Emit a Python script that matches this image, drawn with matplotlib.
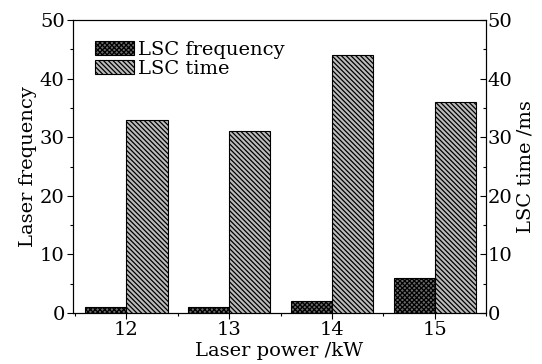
import matplotlib
matplotlib.use("Agg")
import matplotlib.pyplot as plt
import numpy as np
from matplotlib.ticker import MultipleLocator

plt.rcParams['font.family'] = ['DejaVu Serif']
plt.rcParams['hatch.linewidth'] = 0.9

powers = [12, 13, 14, 15]
lsc_frequency = [1, 1, 2, 6]
lsc_time = [33, 31, 44, 36]

fig = plt.figure(figsize=(5.42, 3.64), dpi=100)
ax = fig.add_axes([0.1347, 0.140, 0.762, 0.805])
ax2 = ax.twinx()

x = np.array(powers, dtype=float)
w = 0.4
b1 = ax.bar(x - w/2, lsc_frequency, width=w, facecolor='#6a6a6a', edgecolor='black',
            hatch='xxxxxxx', linewidth=0.8, label='LSC frequency')
b2 = ax2.bar(x + w/2, lsc_time, width=w, facecolor='#bcbcbc', edgecolor='black',
             hatch='\\\\\\\\\\\\\\', linewidth=0.8, label='LSC time')

for a in (ax, ax2):
    a.set_ylim(0, 50)
    a.yaxis.set_major_locator(MultipleLocator(10))
    a.yaxis.set_minor_locator(MultipleLocator(5))
ax.set_xlim(11.48, 15.5)
ax.set_xticks(powers)
ax.xaxis.set_minor_locator(MultipleLocator(0.5))

fs = 14
ax.tick_params(axis='both', which='major', direction='out', length=4, labelsize=fs, width=0.8, pad=2)
ax.tick_params(axis='both', which='minor', direction='out', length=2, width=0.8)
ax2.tick_params(axis='y', which='major', direction='in', length=4, labelsize=fs, width=0.8, pad=1)
ax2.tick_params(axis='y', which='minor', direction='in', length=2, width=0.8)

ax.set_xlabel('Laser power /kW', fontsize=fs, labelpad=2)
ax.set_ylabel('Laser frequency', fontsize=fs, labelpad=2)
ax2.set_ylabel('LSC time /ms', fontsize=fs, labelpad=3)

ax.legend(handles=[b1, b2], loc='upper left', frameon=False, fontsize=fs,
          handlelength=2.0, handleheight=0.75, handletextpad=0.2, labelspacing=0.05,
          borderaxespad=0.0, bbox_to_anchor=(0.035, 0.955))

fig.savefig('out.png', dpi=100)
